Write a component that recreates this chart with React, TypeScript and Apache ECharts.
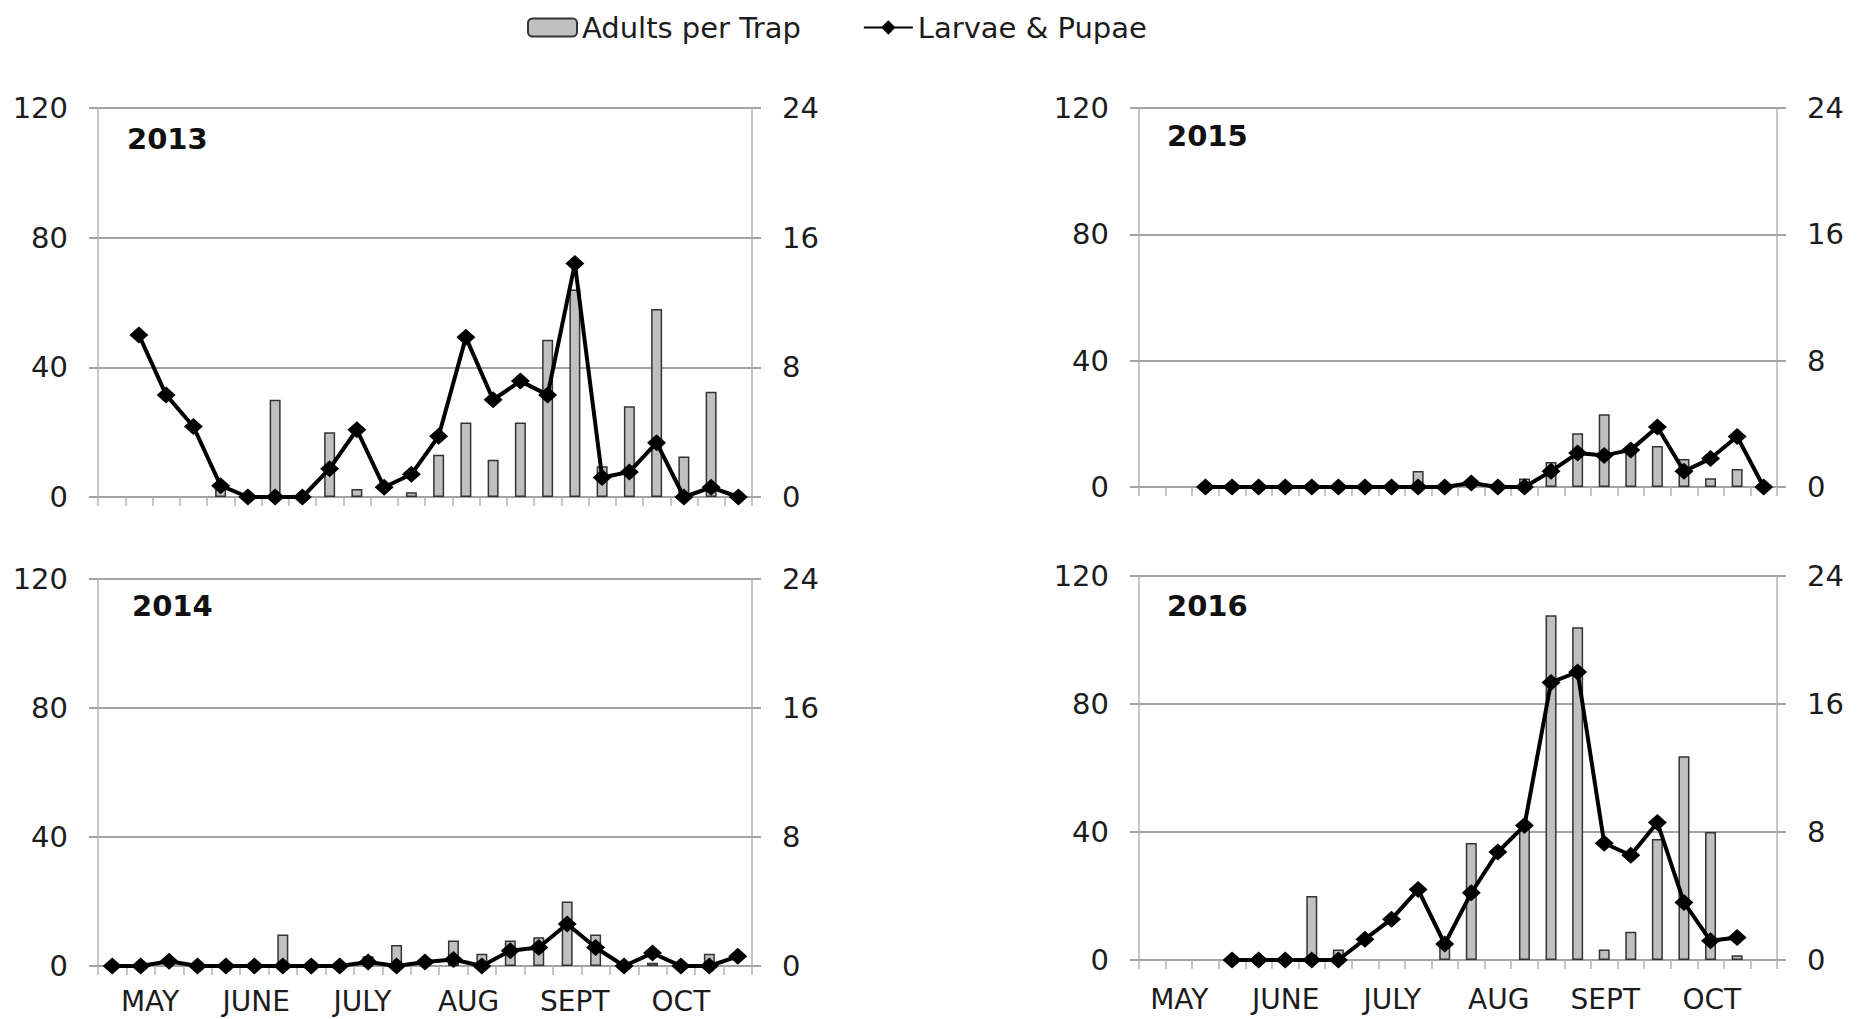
import React, { useEffect, useRef } from "react";
import * as echarts from "echarts";

const FONT = "DejaVu Sans";

// Weekly sampling slots per season (category axes)
const weeks24 = ["1","2","3","4","5","6","7","8","9","10","11","12","13","14","15","16","17","18","19","20","21","22","23","24"];
const weeks23 = ["1","2","3","4","5","6","7","8","9","10","11","12","13","14","15","16","17","18","19","20","21","22","23"];
const months = ["MAY", "JUNE", "JULY", "AUG", "SEPT", "OCT"];

const seriesNames = ["Adults per Trap", "Larvae & Pupae"];
const years = ["2013", "2014", "2015", "2016"];

const leftTicks = { min: 0, max: 120, interval: 40 };
const rightTicks = { min: 0, max: 24, interval: 8 };

// 2013 (24 slots)
const adults2013 = [null, null, null, null, 2.5, null, 30, null, 20, 2.5, null, 1.5, 13, 23, 11.5, 23, 48.5, 64, 9.5, 28, 58, 12.5, 32.5, null];
const larvae2013 = [null, 10, 6.3, 4.35, 0.7, 0, 0, 0, 1.75, 4.15, 0.6, 1.4, 3.75, 9.85, 6, 7.15, 6.3, 14.4, 1.2, 1.55, 3.35, 0, 0.6, 0];

// 2014 (23 slots)
const adults2014 = [null, null, null, null, null, null, 9.8, null, null, 3, 6.5, null, 7.9, 3.8, 7.9, 8.9, 20, 9.8, null, 1, null, 3.8, null];
const larvae2014 = [0, 0, 0.3, 0, 0, 0, 0, 0, 0, 0.25, 0, 0.25, 0.4, 0, 0.95, 1.15, 2.6, 1.15, 0, 0.8, 0, 0, 0.6];

// 2015 (24 slots)
const adults2015 = [null, null, null, null, null, null, null, null, null, null, 5.1, null, null, null, 2.7, 7.9, 17, 23, 12, 13, 8.9, 2.8, 5.7, null];
const larvae2015 = [null, null, 0, 0, 0, 0, 0, 0, 0, 0, 0, 0, 0.25, 0, 0, 1.0, 2.15, 2.0, 2.35, 3.8, 1.0, 1.8, 3.2, 0];

// 2016 (24 slots)
const adults2016 = [null, null, null, null, null, null, 20, 3.3, null, null, null, 4, 36.6, null, 41, 107.7, 104, 3.3, 8.8, 37.8, 63.7, 40, 1.5, null];
const larvae2016 = [null, null, null, 0, 0, 0, 0, 0, 1.3, 2.55, 4.4, 1.0, 4.2, 6.75, 8.4, 17.35, 18.0, 7.3, 6.55, 8.6, 3.6, 1.2, 1.4, null];

const panels = [
  { cats: weeks24, adults: adults2013, larvae: larvae2013 },
  { cats: weeks23, adults: adults2014, larvae: larvae2014 },
  { cats: weeks24, adults: adults2015, larvae: larvae2015 },
  { cats: weeks24, adults: adults2016, larvae: larvae2016 },
];

const GRID_COLOR = "#a3a3a3";
const AXIS_COLOR = "#b3b3b3";
const TEXT_COLOR = "#1c1c1c";

export default function App() {
  const ref = useRef<HTMLDivElement>(null);

  useEffect(() => {
    if (!ref.current) return;
    const chart = echarts.init(ref.current, null, { renderer: "svg" });

    const grids = [
      { left: 98, top: 108, width: 654, height: 389 },
      { left: 98, top: 579, width: 654, height: 387 },
      { left: 1139, top: 108, width: 638, height: 379 },
      { left: 1139, top: 576, width: 638, height: 384 },
      // month label strips (bottom panels)
      { left: 97, top: 579, width: 637, height: 387 },
      { left: 1126, top: 576, width: 639, height: 384 },
    ];

    const xAxis: any[] = panels.map((p, i) => ({
      type: "category",
      gridIndex: i,
      data: p.cats,
      boundaryGap: true,
      axisLine: { show: true, lineStyle: { color: GRID_COLOR, width: 2 } },
      axisTick: { show: true, interval: 0, length: 9, lineStyle: { color: AXIS_COLOR, width: 1.5 } },
      axisLabel: { show: false },
      splitLine: { show: false },
    }));
    [4, 5].forEach((g, k) => {
      xAxis.push({
        type: "category",
        gridIndex: g,
        data: months,
        boundaryGap: true,
        axisLine: { show: false, onZero: false },
        axisTick: { show: false },
        splitLine: { show: false },
        axisLabel: {
          show: true,
          interval: 0,
          margin: k === 0 ? 21 : 25,
          fontSize: 28,
          lineHeight: 28,
          fontFamily: FONT,
          color: TEXT_COLOR,
        },
      });
    });

    const yAxis: any[] = [];
    panels.forEach((_, i) => {
      yAxis.push({
        type: "value",
        gridIndex: i,
        position: "left",
        ...leftTicks,
        axisLine: { show: true, lineStyle: { color: AXIS_COLOR, width: 1.5 } },
        axisTick: { show: true, length: 9, lineStyle: { color: GRID_COLOR, width: 2 } },
        splitLine: { show: true, lineStyle: { color: GRID_COLOR, width: 2 } },
        axisLabel: { margin: 30, fontSize: 29, fontFamily: FONT, color: TEXT_COLOR },
      });
      yAxis.push({
        type: "value",
        gridIndex: i,
        position: "right",
        ...rightTicks,
        axisLine: { show: true, lineStyle: { color: AXIS_COLOR, width: 1.5 } },
        axisTick: { show: true, length: 9, lineStyle: { color: GRID_COLOR, width: 2 } },
        splitLine: { show: false },
        axisLabel: { margin: 30, fontSize: 29, fontFamily: FONT, color: TEXT_COLOR },
      });
    });
    yAxis.push({ type: "value", gridIndex: 4, show: false });
    yAxis.push({ type: "value", gridIndex: 5, show: false });

    const series: any[] = [];
    panels.forEach((p, i) => {
      series.push({
        type: "bar",
        name: seriesNames[0],
        xAxisIndex: i,
        yAxisIndex: 2 * i,
        data: p.adults,
        barWidth: 11,
        itemStyle: { color: "#c0c0c0", borderColor: "#333333", borderWidth: 1.5 },
      });
      series.push({
        type: "line",
        name: seriesNames[1],
        xAxisIndex: i,
        yAxisIndex: 2 * i + 1,
        data: p.larvae,
        symbol: "diamond",
        symbolSize: [19, 17],
        showAllSymbol: true,
        lineStyle: { color: "#000000", width: 4 },
        itemStyle: { color: "#000000" },
        z: 3,
      });
    });

    const titlePos = [
      { left: 127, top: 124 },
      { left: 132, top: 591 },
      { left: 1167, top: 121 },
      { left: 1167, top: 591 },
    ];

    chart.setOption({
      animation: false,
      backgroundColor: "#ffffff",
      title: years.map((y, i) => ({
        text: y,
        left: titlePos[i].left,
        top: titlePos[i].top,
        padding: 0,
        textStyle: { fontSize: 29, fontWeight: "bold", fontFamily: FONT, color: "#111" },
      })),
      legend: {
        data: seriesNames,
        left: 522,
        top: 8,
        itemWidth: 49,
        itemHeight: 18,
        itemGap: 62,
        textStyle: { fontSize: 29, fontFamily: FONT, color: TEXT_COLOR },
      },
      grid: grids,
      xAxis,
      yAxis,
      series,
    });

    return () => chart.dispose();
  }, []);

  return (
    <div
      ref={ref}
      style={{ position: "absolute", left: 0, top: 0, width: 1860, height: 1019, background: "#fff" }}
    />
  );
}
